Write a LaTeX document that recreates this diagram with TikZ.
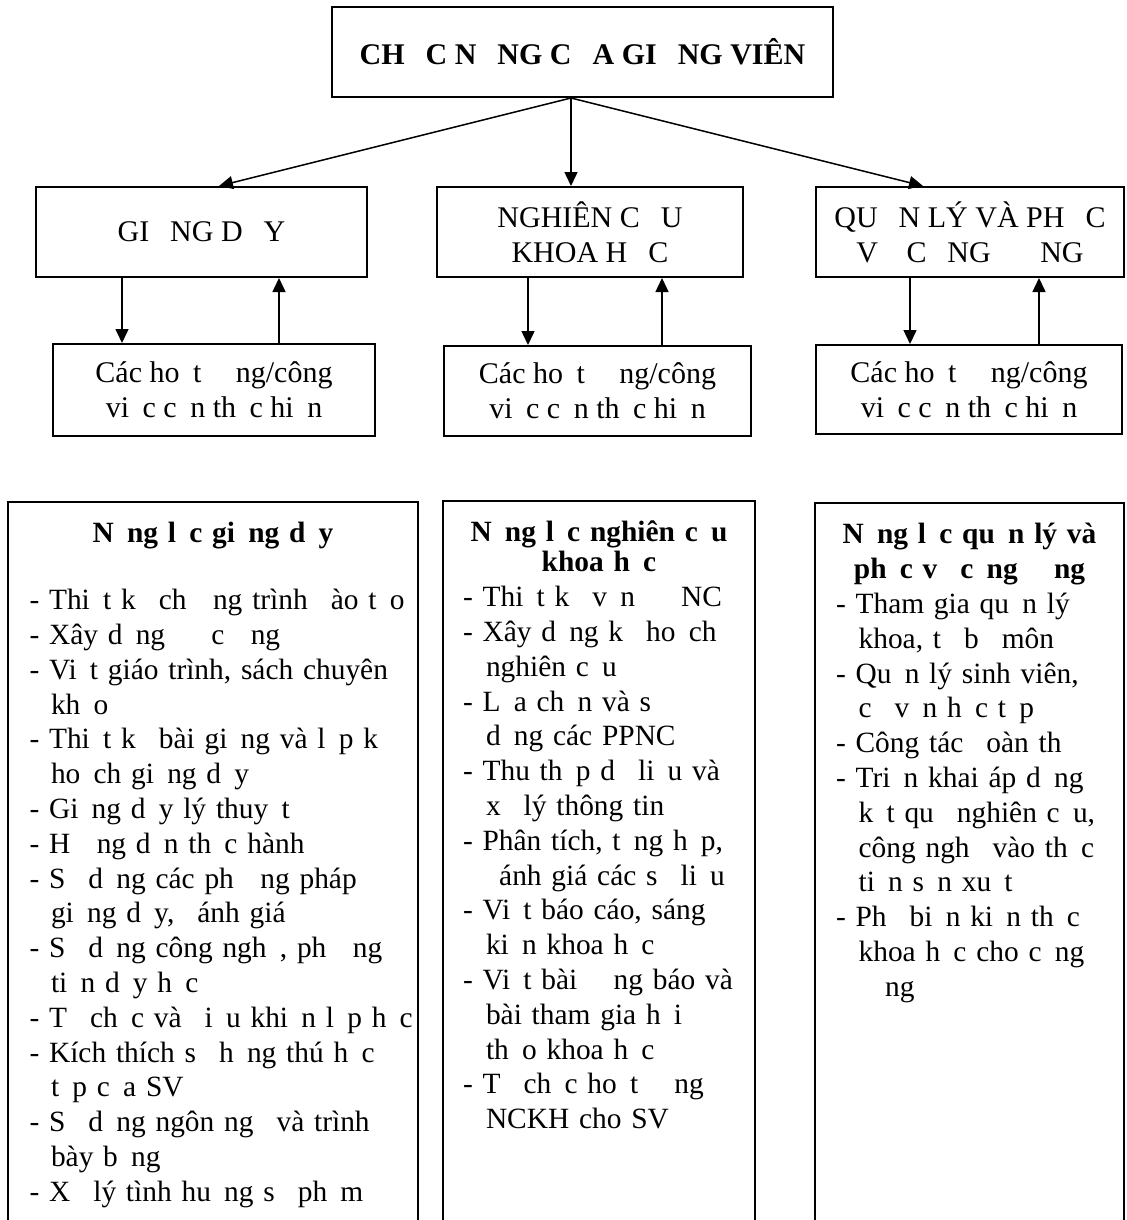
\documentclass[tikz,border=0pt]{standalone}
\usepackage{fontspec}
\setmainfont{Liberation Serif}
\usetikzlibrary{arrows.meta}
\newcommand{\miss}{\kern.45em\relax}
\newcommand{\Miss}{\kern.7em\relax}
\begin{document}
\begin{tikzpicture}[x=0.5pt,y=-0.5pt,font=\fontsize{15}{17.4}\selectfont,
		box/.style={draw,line width=1pt,align=center,inner sep=0pt,minimum height=45pt},
		arr/.style={line width=0.75pt,-{Triangle[length=7pt,width=6.5pt]}},
		panel/.style={anchor=north west,inner xsep=0pt,inner ysep=8.3pt,outer sep=0pt,font=\fontsize{14.7}{17.4}\selectfont},
		edge/.style={line width=1pt}]
		\useasboundingbox (0,0) rectangle (1126,1220);
		\node[box,minimum width=250.5pt,font=\fontsize{15}{17.4}\selectfont\bfseries] (top) at (582.5,52) {CH\Miss C N\Miss NG C\Miss A GI\Miss NG VIÊN};
		\node[box,minimum width=165.5pt] (gd) at (201.5,232) {GI\Miss NG D\Miss Y};
		\node[box,minimum width=153pt] (nc) at (590,232) {NGHIÊN C\Miss U\\KHOA H\Miss C};
		\node[box,minimum width=154pt] (ql) at (970,232) {QU\Miss N LÝ VÀ PH\Miss C\\V\Miss{} C\Miss NG \Miss\Miss NG};
		\node[box,minimum width=161pt,minimum height=46pt] (hd1) at (214,390) {Các ho\miss t \miss\miss ng/công\\vi\miss c c\miss n th\miss c hi\miss n};
		\node[box,minimum width=153.5pt] (hd2) at (597.5,391) {Các ho\miss t \miss\miss ng/công\\vi\miss c c\miss n th\miss c hi\miss n};
		\node[box,minimum width=153pt,minimum height=44.5pt] (hd3) at (969,389.5) {Các ho\miss t \miss\miss ng/công\\vi\miss c c\miss n th\miss c hi\miss n};
		\draw[arr] (top.south -| 571,0) -- (gd.north -| 219,0);
		\draw[arr] (top.south -| 571,0) -- (nc.north -| 571,0);
		\draw[arr] (top.south -| 571,0) -- (ql.north -| 923,0);
		\draw[arr] (gd.south -| 122,0) -- (hd1.north -| 122,0);
		\draw[arr] (hd1.north -| 279,0) -- (gd.south -| 279,0);
		\draw[arr] (nc.south -| 528,0) -- (hd2.north -| 528,0);
		\draw[arr] (hd2.north -| 662,0) -- (nc.south -| 662,0);
		\draw[arr] (ql.south -| 910,0) -- (hd3.north -| 910,0);
		\draw[arr] (hd3.north -| 1039,0) -- (ql.south -| 1039,0);
		\node[panel,text width=205pt,minimum width=205pt] (nl1) at (8,502) {\centering\bfseries\strut N\miss ng l\miss c gi\miss ng d\miss y\par
			\vspace{16pt}\raggedright\mdseries\leftskip=10.75pt\rightskip=-8pt plus 1fil
			- Thi\miss t k\miss{} ch\miss\miss ng trình \miss ào t\miss o\\
			- Xây d\miss ng \miss\miss{} c\miss\miss ng\\
			- Vi\miss t giáo trình, sách chuyên\\
			\hspace*{10.75pt}kh\miss o\\
			- Thi\miss t k\miss{} bài gi\miss ng và l\miss p k\miss\\
			\hspace*{10.75pt}ho\miss ch gi\miss ng d\miss y\\
			- Gi\miss ng d\miss y lý thuy\miss t\\
			- H\miss\miss ng d\miss n th\miss c hành\\
			- S\miss{} d\miss ng các ph\miss\miss ng pháp\\
			\hspace*{10.75pt}gi\miss ng d\miss y, \miss ánh giá\\
			- S\miss{} d\miss ng công ngh\miss, ph\miss\miss ng\\
			\hspace*{10.75pt}ti\miss n d\miss y h\miss c\\
			- T\miss{} ch\miss c và \miss i\miss u khi\miss n l\miss p h\miss c\\
			- Kích thích s\miss{} h\miss ng thú h\miss c\\
			\hspace*{10.75pt}t\miss p c\miss a SV\\
			- S\miss{} d\miss ng ngôn ng\miss{} và trình\\
			\hspace*{10.75pt}bày b\miss ng\\
			- X\miss{} lý tình hu\miss ng s\miss{} ph\miss m\par};
		\node[panel,text width=156pt,minimum width=156pt] (nl2) at (443,501) {\centering\bfseries\strut N\miss ng l\miss c nghiên c\miss u\\[-2.4pt]
			khoa h\miss c\par
			\raggedright\mdseries\leftskip=10pt\rightskip=-8pt plus 1fil
			- Thi\miss t k\miss{} v\miss n \miss\miss{} NC\\
			- Xây d\miss ng k\miss{} ho\miss ch\\
			\hspace*{11.5pt}nghiên c\miss u\\
			- L\miss a ch\miss n và s\miss\\
			\hspace*{11.5pt}d\miss ng các PPNC\\
			- Thu th\miss p d\miss{} li\miss u và\\
			\hspace*{11.5pt}x\miss{} lý thông tin\\
			- Phân tích, t\miss ng h\miss p,\\
			\hspace*{11.5pt}\miss ánh giá các s\miss{} li\miss u\\
			- Vi\miss t báo cáo, sáng\\
			\hspace*{11.5pt}ki\miss n khoa h\miss c\\
			- Vi\miss t bài \miss\miss ng báo và\\
			\hspace*{11.5pt}bài tham gia h\miss i\\
			\hspace*{11.5pt}th\miss o khoa h\miss c\\
			- T\miss{} ch\miss c ho\miss t \miss\miss ng\\
			\hspace*{11.5pt}NCKH cho SV\par};
		\node[panel,text width=154.5pt,minimum width=154.5pt] (nl3) at (815,503) {\centering\bfseries\strut N\miss ng l\miss c qu\miss n lý và\\
			ph\miss c v\miss{} c\miss ng \miss\miss ng\par
			\raggedright\mdseries\leftskip=10.5pt\rightskip=-8pt plus 1fil
			- Tham gia qu\miss n lý\\
			\hspace*{11.3pt}khoa, t\miss{} b\miss{} môn\\
			- Qu\miss n lý sinh viên,\\
			\hspace*{11.3pt}c\miss{} v\miss n h\miss c t\miss p\\
			- Công tác \miss oàn th\miss\\
			- Tri\miss n khai áp d\miss ng\\
			\hspace*{11.3pt}k\miss t qu\miss{} nghiên c\miss u,\\
			\hspace*{11.3pt}công ngh\miss{} vào th\miss c\\
			\hspace*{11.3pt}ti\miss n s\miss n xu\miss t\\
			- Ph\miss{} bi\miss n ki\miss n th\miss c\\
			\hspace*{11.3pt}khoa h\miss c cho c\miss ng\\
			\hspace*{11.3pt}\miss\miss ng\par};
		\draw[edge] (nl1.north west |- 0,1220) -- (nl1.north west) -- (nl1.north east) -- (nl1.north east |- 0,1220);
		\draw[edge] (nl2.north west |- 0,1220) -- (nl2.north west) -- (nl2.north east) -- (nl2.north east |- 0,1220);
		\draw[edge] (nl3.north west |- 0,1220) -- (nl3.north west) -- (nl3.north east) -- (nl3.north east |- 0,1220);
	\end{tikzpicture}
\end{document}
